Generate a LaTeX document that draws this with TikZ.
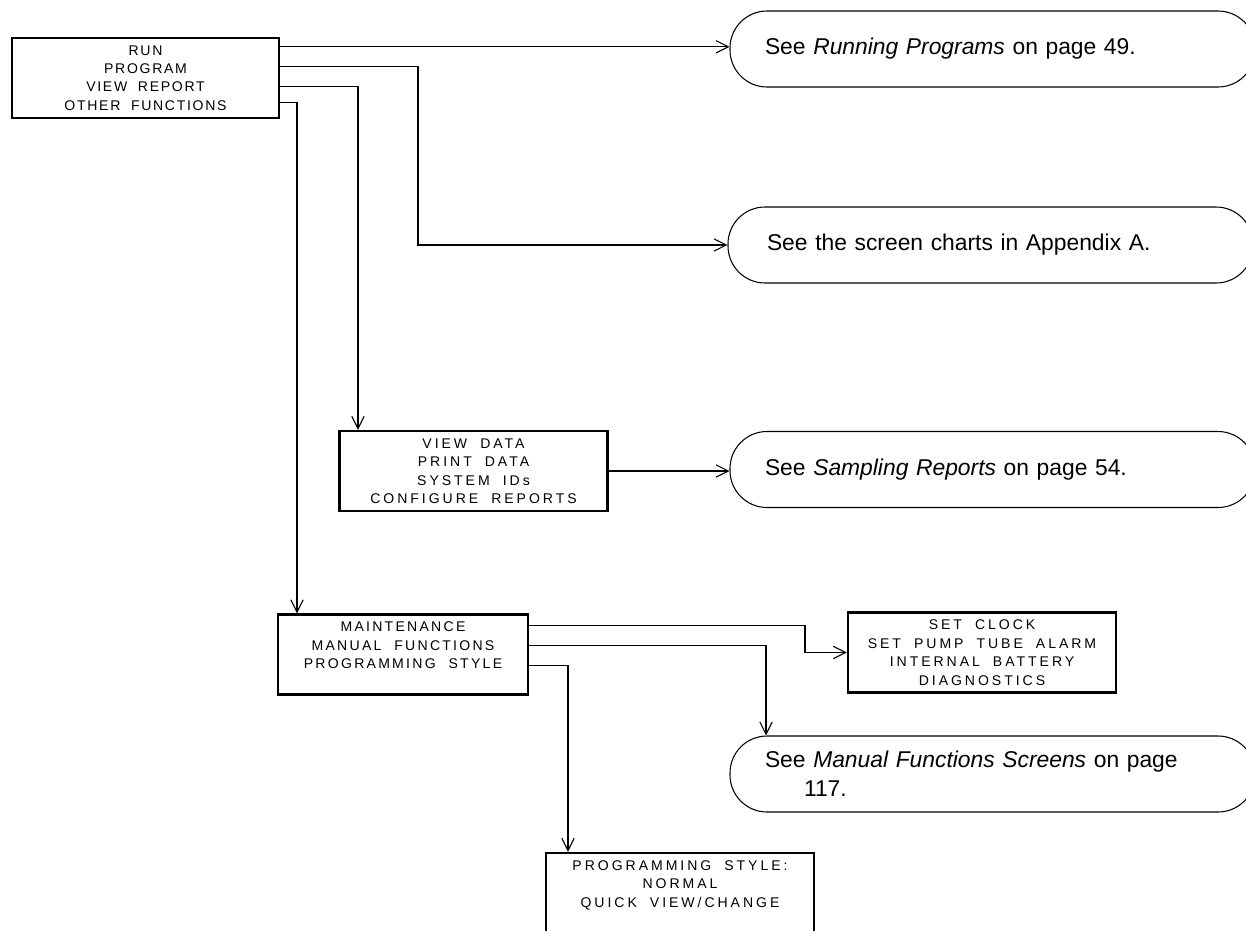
\documentclass[tikz,border=0pt]{standalone}
\usepackage{fontspec}
\setmainfont{Liberation Sans}
\newfontfamily\screenfont[LetterSpace=21,WordSpace=1.9]{Liberation Sans}
\newfontfamily\menufont[LetterSpace=12,WordSpace=1.9]{Liberation Sans}
\newfontfamily\maintfont[LetterSpace=16,WordSpace=2.1]{Liberation Sans}
\usetikzlibrary{arrows.meta}
\newlength{\pxl}
\setlength{\pxl}{0.02cm}
\newcommand{\screensize}{\fontsize{8}{10.5}\selectfont}

\begin{document}
\begin{tikzpicture}[x=0.02cm,y=-0.02cm]
    \tikzstyle{screen}=[draw,line width=1.4pt,align=center,inner sep=0pt,minimum width=268\pxl,minimum height=80\pxl,font=\screenfont\screensize]
    \tikzstyle{note}=[draw,line width=0.6pt,rounded corners=37\pxl,text width=455\pxl,align=left,inner xsep=35\pxl,inner ysep=0pt,minimum height=76\pxl,font=\fontsize{13}{16.4}\selectfont]
    \tikzstyle{conn}=[line width=0.6pt,-{Straight Barb[length=7pt,width=7pt]}]
    \useasboundingbox (0,0) rectangle (1246,930);
    \clip (0,0) rectangle (1246,930);

    \node[screen,minimum width=267\pxl,font=\menufont\screensize] (menu) at (145.5,78) {RUN\\PROGRAM\\VIEW REPORT\\OTHER FUNCTIONS};
    \node[screen] (data) at (473.5,471) {VIEW DATA\\PRINT DATA\\SYSTEM IDs\\CONFIGURE REPORTS};
    \node[screen,minimum width=250\pxl,font=\maintfont\screensize] (maint) at (403,654.5) {MAINTENANCE\\MANUAL FUNCTIONS\\PROGRAMMING STYLE\\~};
    \node[screen] (clock) at (982,652.5) {SET CLOCK\\SET PUMP TUBE ALARM\\INTERNAL BATTERY\\DIAGNOSTICS};
    \node[screen] (style) at (680,893) {PROGRAMMING STYLE:\\NORMAL\\QUICK VIEW/CHANGE\\~};

    \node[note] (see1) at (992.5,49) {See \textit{Running Programs} on page 49.};
    \node[note] (see2) at (990.5,245) {\hspace*{4\pxl}See the screen charts in Appendix A.};
    \node[note] (see3) at (992.5,469.5) {See \textit{Sampling Reports} on page 54.};
    \node[note] (see4) at (992.5,774) {See \textit{Manual Functions Screens} on page\\\hspace*{39\pxl}117.};

    \foreach \i/\dy in {1/10, 2/30, 3/50, 4/66}
        \coordinate (m\i) at ([yshift=-\dy\pxl]menu.north east);
    \foreach \i/\dy in {1/12, 2/32, 3/52}
        \coordinate (n\i) at ([yshift=-\dy\pxl]maint.north east);

    \draw[conn] (m1) -- (m1 -| see1.west);
    \draw[conn] (m2) -| (418,0 |- see2.west) -- (see2.west);
    \draw[conn] (m3) -| (358,0 |- data.north);
    \draw[conn] (m4) -| (297,0 |- maint.north);
    \draw[conn] (data.east) -- (data.east -| see3.west);
    \draw[conn] (n1) -| (805,0 |- clock.west) -- (clock.west);
    \draw[conn] (n2) -| (766,0 |- see4.north);
    \draw[conn] (n3) -| (568,0 |- style.north);
\end{tikzpicture}
\end{document}
